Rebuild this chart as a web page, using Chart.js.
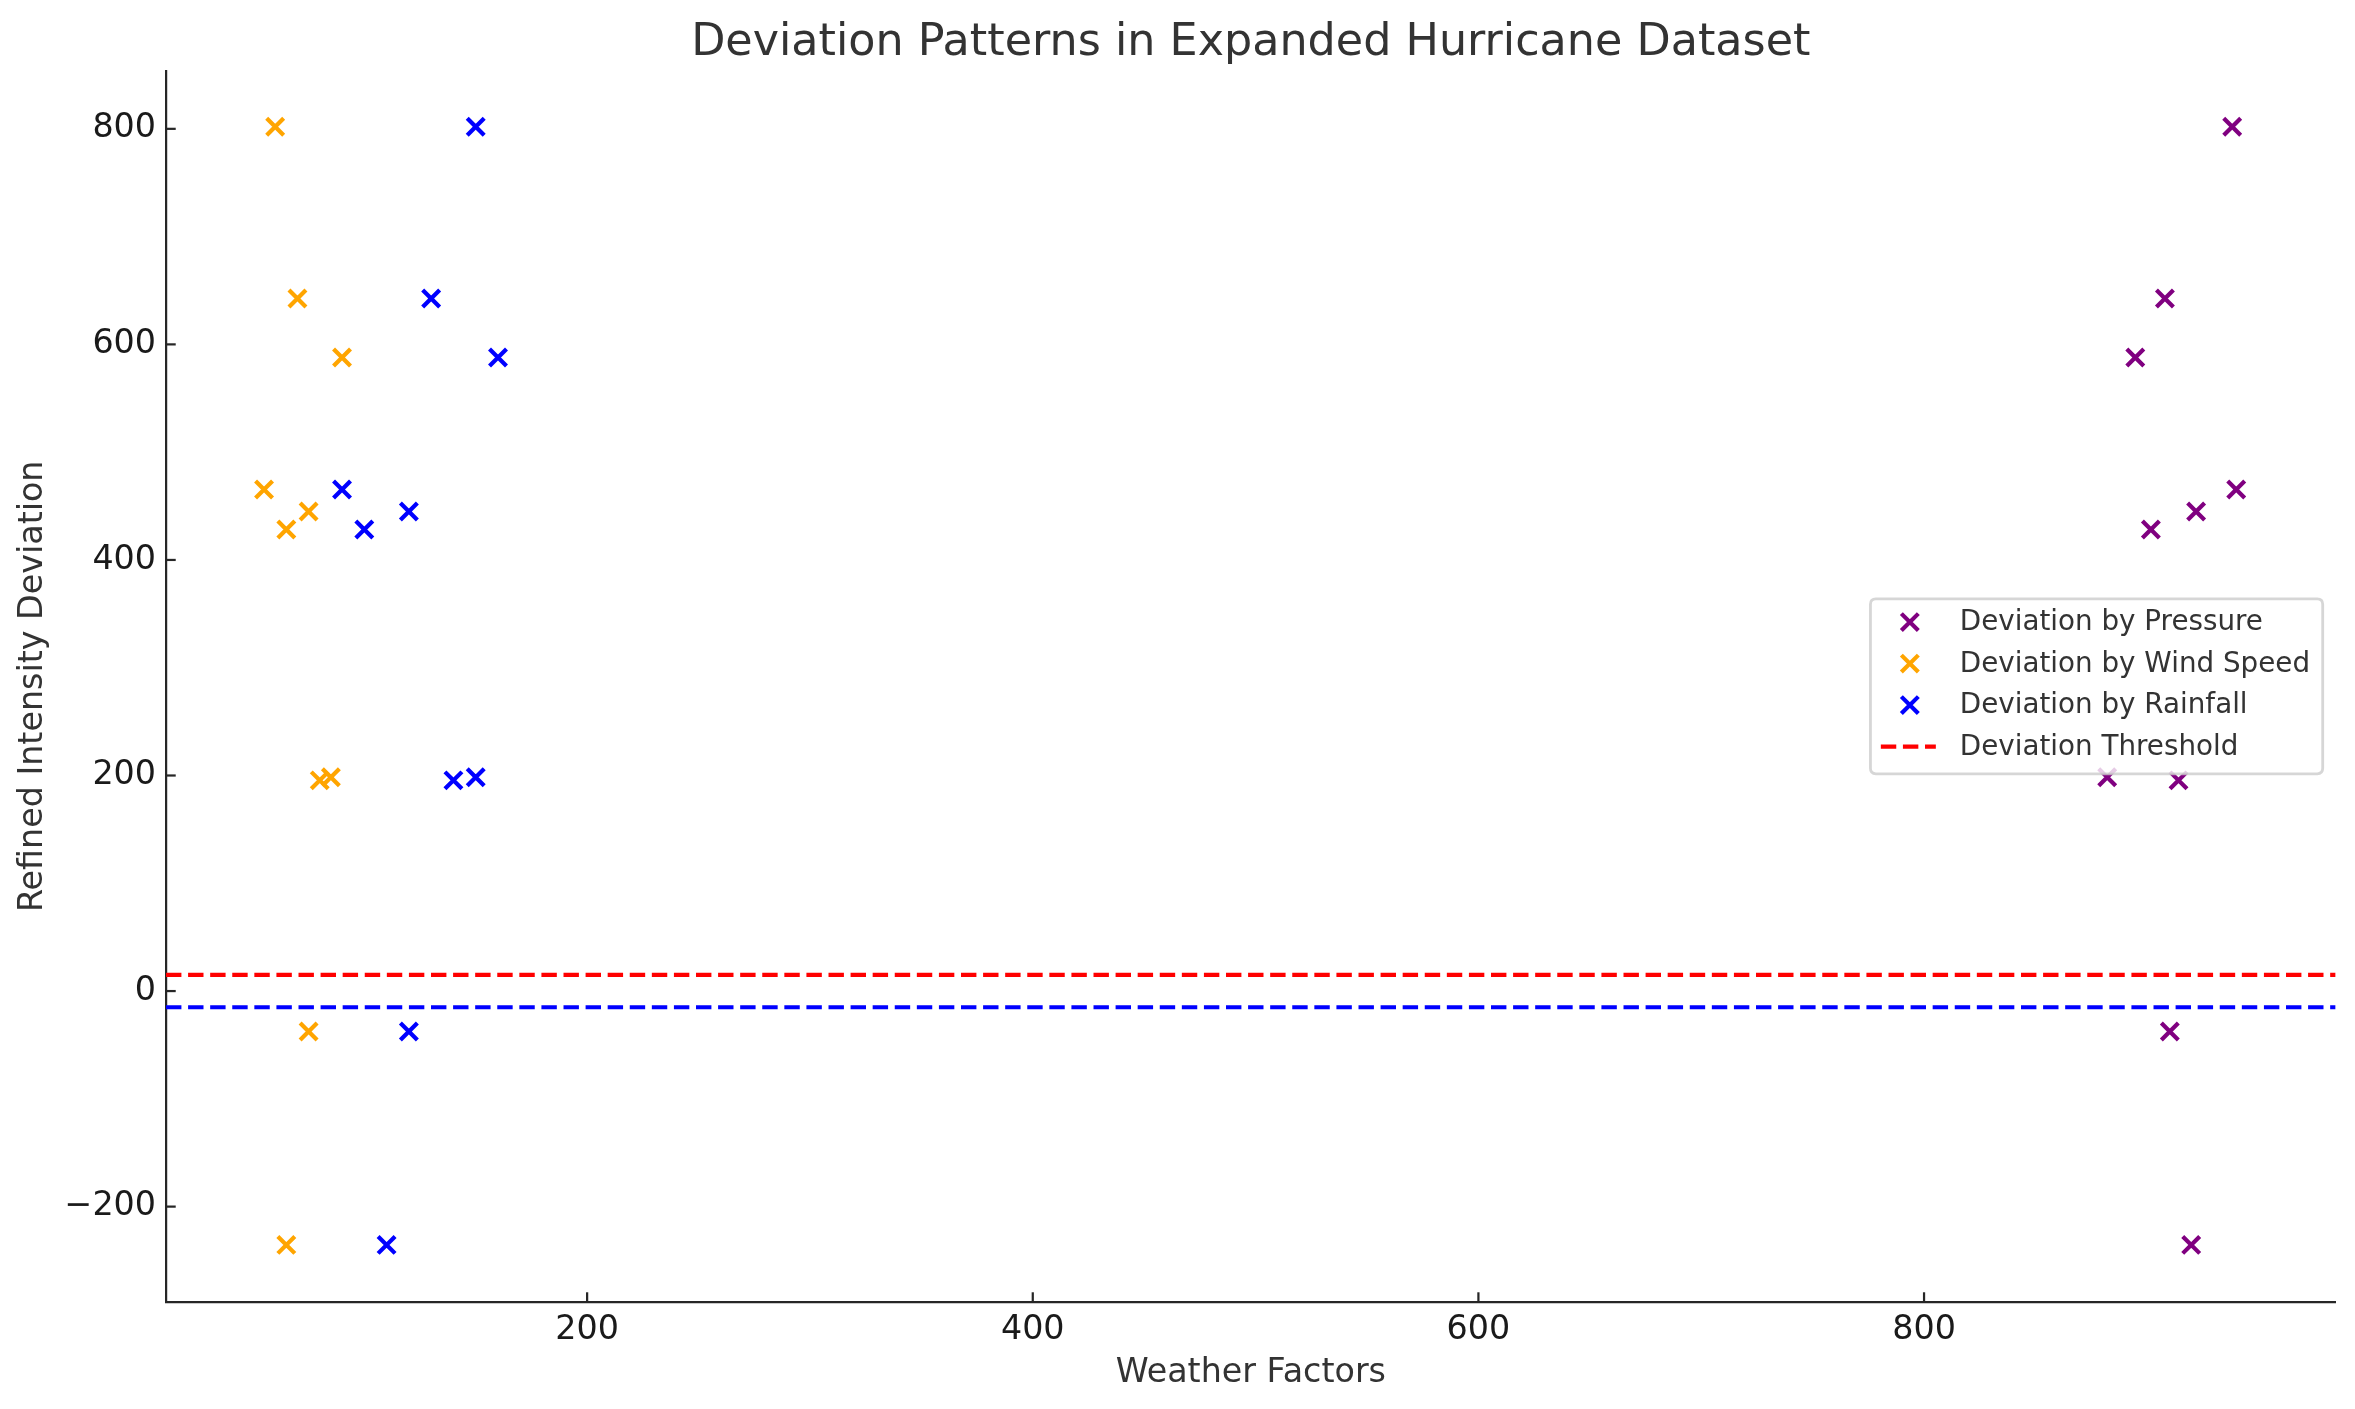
<!DOCTYPE html>
<html>
<head>
<meta charset="utf-8">
<script src="https://cdn.jsdelivr.net/npm/chart.js@4.4.1/dist/chart.umd.min.js"></script>
<style>
  html, body { margin: 0; padding: 0; background: #ffffff; }
  #wrap { width: 2355px; height: 1409px; position: relative; }
</style>
</head>
<body>
<div id="wrap"><canvas id="c" width="2355" height="1409"></canvas></div>
<script>
// ---- data ----
const chartTitle = 'Deviation Patterns in Expanded Hurricane Dataset';
const xAxisLabel = 'Weather Factors';
const yAxisLabel = 'Refined Intensity Deviation';
const seriesNames = ['Deviation by Pressure', 'Deviation by Wind Speed', 'Deviation by Rainfall'];
const thresholdName = 'Deviation Threshold';

const deviation = [802, 642.6, 587.8, 465.3, 428.2, 444.9, 195.5, 198.3, -37.6, -235.5];
const pressure  = [938.3, 908.1, 894.8, 940.1, 901.8, 922.1, 914.2, 882.2, 910.3, 919.9];
const windSpeed = [60, 70, 90, 55, 65, 75, 80, 85, 75, 65];
const rainfall  = [150, 130, 160, 90, 100, 120, 140, 150, 120, 110];

const thresholdUpper = 15;
const thresholdLower = -15;

const xTicks = [200, 400, 600, 800];
const yTicks = [-200, 0, 200, 400, 600, 800];

const xLimits = [11, 984.7];
const yLimits = [-288.5, 854];

// ---- styles ----
const FONT = "'DejaVu Sans', 'Liberation Sans', sans-serif";
const colors = ['#800080', '#FFA500', '#0000FF'];
const PT = 200 / 72;
const TEXT = '#333333';
const AXIS = '#262626';

function pts(xs) { return xs.map((x, i) => ({ x: x, y: deviation[i] })); }

const scatterStyle = (c) => ({
  borderColor: c, backgroundColor: c, pointStyle: 'crossRot',
  pointRadius: 12, pointHoverRadius: 12, pointBorderWidth: 4.2,
  showLine: false
});

const datasets = [
  Object.assign({ label: seriesNames[0], data: pts(pressure) }, scatterStyle(colors[0])),
  Object.assign({ label: seriesNames[1], data: pts(windSpeed) }, scatterStyle(colors[1])),
  Object.assign({ label: seriesNames[2], data: pts(rainfall) }, scatterStyle(colors[2])),
  {
    label: thresholdName, data: [{ x: xLimits[0], y: thresholdUpper }, { x: xLimits[1], y: thresholdUpper }],
    showLine: true, borderColor: '#FF0000', backgroundColor: '#FF0000', borderWidth: 1.5 * PT,
    borderDash: [3.7 * 1.5 * PT, 1.6 * 1.5 * PT], pointRadius: 0, fill: false
  },
  {
    label: '_lower', data: [{ x: xLimits[0], y: thresholdLower }, { x: xLimits[1], y: thresholdLower }],
    showLine: true, borderColor: '#0000FF', backgroundColor: '#0000FF', borderWidth: 1.5 * PT,
    borderDash: [3.7 * 1.5 * PT, 1.6 * 1.5 * PT], pointRadius: 0, fill: false, hideLegend: true
  }
];

// inward tick marks (matplotlib direction='in')
const inwardTicks = {
  id: 'inwardTicks',
  afterDatasetsDraw(chart) {
    const { ctx, chartArea: a, scales: { x, y } } = chart;
    const len = 3.5 * PT;
    ctx.save();
    ctx.strokeStyle = AXIS;
    ctx.lineWidth = 0.8 * PT;
    xTicks.forEach(v => {
      const p = x.getPixelForValue(v);
      ctx.beginPath(); ctx.moveTo(p, a.bottom); ctx.lineTo(p, a.bottom - len); ctx.stroke();
    });
    yTicks.forEach(v => {
      const p = y.getPixelForValue(v);
      ctx.beginPath(); ctx.moveTo(a.left, p); ctx.lineTo(a.left + len, p); ctx.stroke();
    });
    ctx.restore();
  }
};

// matplotlib-like legend box inside the plot area (right, centred)
const legendBox = {
  id: 'legendBox',
  afterDraw(chart) {
    const { ctx, chartArea: a } = chart;
    const items = chart.data.datasets.filter(d => !d.hideLegend);
    const fs = 10 * PT;
    ctx.save();
    ctx.font = fs + 'px ' + FONT;
    let maxW = 0;
    items.forEach(d => { maxW = Math.max(maxW, ctx.measureText(d.label).width); });
    const rowH = 41.5;
    const w = 89.4 + maxW + 12.7;
    const h = 175;
    const right = a.right - 12.9;
    const left = right - w;
    const top = (a.top + a.bottom) / 2 - h / 2;
    const r = 5.5;
    ctx.beginPath();
    ctx.moveTo(left + r, top);
    ctx.lineTo(left + w - r, top); ctx.quadraticCurveTo(left + w, top, left + w, top + r);
    ctx.lineTo(left + w, top + h - r); ctx.quadraticCurveTo(left + w, top + h, left + w - r, top + h);
    ctx.lineTo(left + r, top + h); ctx.quadraticCurveTo(left, top + h, left, top + h - r);
    ctx.lineTo(left, top + r); ctx.quadraticCurveTo(left, top, left + r, top);
    ctx.closePath();
    ctx.fillStyle = 'rgba(255,255,255,0.8)';
    ctx.fill();
    ctx.strokeStyle = 'rgba(204,204,204,0.8)';
    ctx.lineWidth = 2.8;
    ctx.stroke();
    items.forEach((d, i) => {
      const cy = top + 23.3 + i * rowH;
      const cx = left + 39.4;
      ctx.save();
      if (d.showLine) {
        ctx.strokeStyle = d.borderColor;
        ctx.lineWidth = d.borderWidth;
        ctx.setLineDash(d.borderDash);
        ctx.beginPath(); ctx.moveTo(cx - 29, cy); ctx.lineTo(cx + 26, cy); ctx.stroke();
      } else {
        ctx.strokeStyle = d.borderColor;
        ctx.lineWidth = d.pointBorderWidth;
        ctx.beginPath();
        const o = d.pointRadius * Math.SQRT1_2;
        ctx.moveTo(cx - o, cy - o); ctx.lineTo(cx + o, cy + o);
        ctx.moveTo(cx + o, cy - o); ctx.lineTo(cx - o, cy + o);
        ctx.stroke();
      }
      ctx.restore();
      ctx.fillStyle = TEXT;
      ctx.textAlign = 'left';
      ctx.textBaseline = 'middle';
      ctx.fillText(d.label, left + 89.4, cy + 1);
    });
    ctx.restore();
  }
};

new Chart(document.getElementById('c'), {
  type: 'scatter',
  data: { datasets: datasets },
  plugins: [inwardTicks, legendBox],
  options: {
    responsive: false,
    animation: false,
    devicePixelRatio: 1,
    layout: { padding: { left: 0, right: 19.4, top: 0, bottom: 0 } },
    plugins: {
      legend: { display: false },
      tooltip: { enabled: false },
      title: {
        display: true, text: chartTitle, color: TEXT, fullSize: false,
        font: { family: FONT, size: 16 * PT, weight: 'normal' },
        padding: { top: 16.5, bottom: 0.8 }
      }
    },
    scales: {
      x: {
        type: 'linear', position: 'bottom', min: xLimits[0], max: xLimits[1],
        grid: { display: false, drawTicks: false },
        border: { display: true, color: AXIS, width: 0.8 * PT },
        ticks: {
          stepSize: 200, includeBounds: false, color: '#1a1a1a', padding: 8,
          font: { family: FONT, size: 12 * PT },
          maxRotation: 0
        },
        afterBuildTicks(s) { s.ticks = xTicks.map(v => ({ value: v })); },
        afterFit(s) { s.height = 107; },
        title: {
          display: true, text: xAxisLabel, color: TEXT,
          font: { family: FONT, size: 12 * PT }, padding: { top: 0, bottom: 16 }
        }
      },
      y: {
        type: 'linear', position: 'left', min: yLimits[0], max: yLimits[1],
        grid: { display: false, drawTicks: false },
        border: { display: true, color: AXIS, width: 0.8 * PT },
        ticks: {
          stepSize: 200, includeBounds: false, color: '#1a1a1a', padding: 10,
          font: { family: FONT, size: 12 * PT },
          callback: (v) => (v < 0 ? '\u2212' + Math.abs(v) : String(v))
        },
        afterBuildTicks(s) { s.ticks = yTicks.map(v => ({ value: v })); },
        afterFit(s) { s.width = 166; },
        title: {
          display: true, text: yAxisLabel, color: TEXT,
          font: { family: FONT, size: 12 * PT }, padding: { top: 13, bottom: 0 }
        }
      }
    }
  }
});
</script>
</body>
</html>
